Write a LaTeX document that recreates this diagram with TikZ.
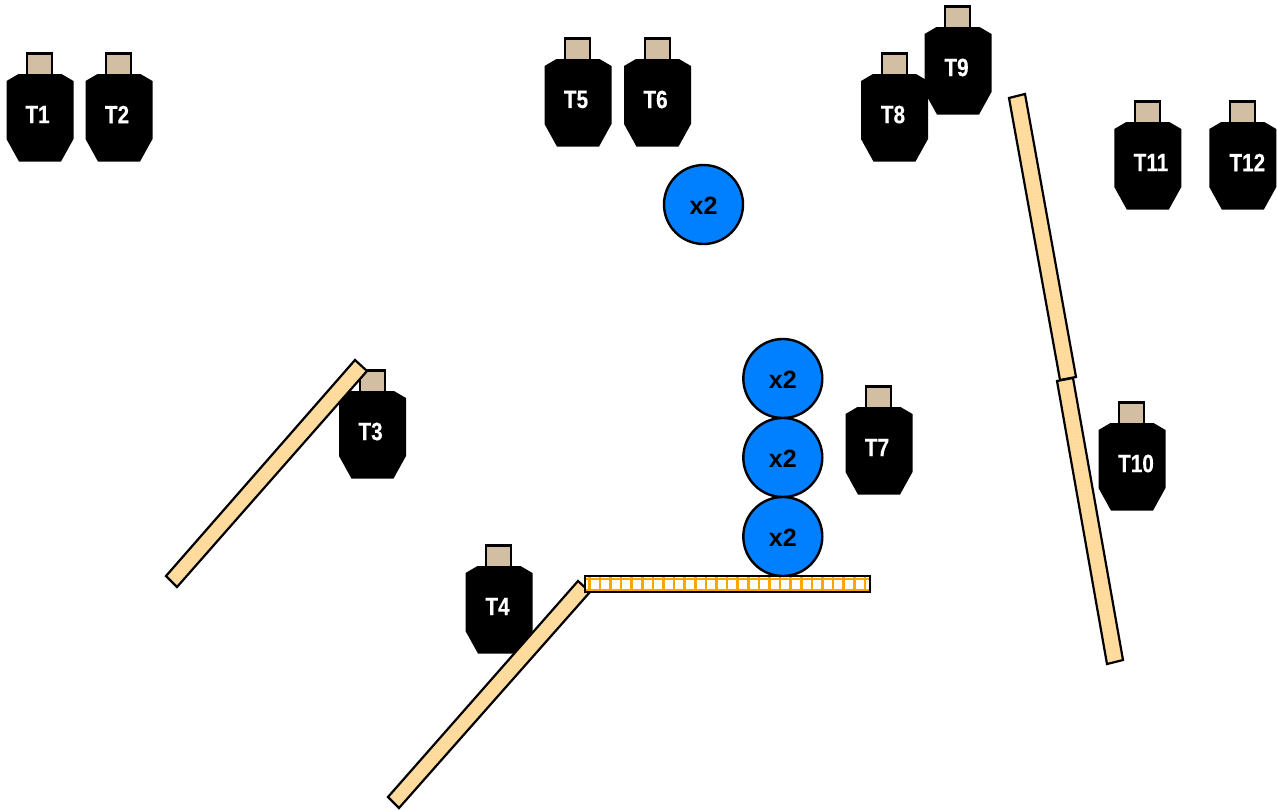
\documentclass[tikz,border=0pt]{standalone}
\usepackage{fontspec}
\setmainfont{Liberation Sans}
\newfontfamily\condfont[FakeStretch=0.83,FakeBold=0.25]{Liberation Sans Bold}
\usetikzlibrary{patterns}
\definecolor{headtan}{HTML}{D2BFA3}
\definecolor{boardfill}{HTML}{FFD998}
\definecolor{boarddot}{HTML}{FFE6BA}
\definecolor{discblue}{HTML}{0080FF}
\definecolor{gridorange}{HTML}{FFA500}
\tikzset{
  head/.style={draw=black,line width=2.4pt,fill=headtan},
  bodyshape/.style={fill=black},
  tlabel/.style={text=white,font=\condfont\fontsize{25}{26}\selectfont,inner sep=0pt},
  disc/.style={circle,draw=black,line width=2.4pt,fill=discblue,minimum size=79pt,inner sep=0pt},
  disclabel/.style={font=\bfseries\fontsize{25}{26}\selectfont,inner sep=0pt},
  board/.style={draw=black,line width=2.2pt,line join=miter,
     preaction={fill=boardfill},pattern=crosshatch dots,pattern color=boarddot}
}
\newcommand{\target}[5]{% name, left, top, label, label offset
  \begin{scope}[shift={(#2,#3)}]
    \draw[head] (20.7,-20.5) rectangle (45.7,2);
    \fill[bodyshape] (12,0) -- (55,0) -- (67,7) -- (67,65) -- (54.5,87.6) -- (12.5,87.6) -- (0,65) -- (0,7) -- cycle;
    \node[tlabel] (#1) at (#5,40.5) {#4};
  \end{scope}
}
\newcommand{\discnode}[3]{%
  \node[disc] (#1) at (#2,#3) {};
  \node[disclabel] (#1l) at (#2,#3+1.5) {x2};
}
\begin{document}
\begin{tikzpicture}[x=1pt,y=-1pt]
\useasboundingbox (0,0) rectangle (1277,809);
\target{t1}{6.5}{74}{T1}{31}
\target{t2}{85.5}{74}{T2}{31.5}
\target{t3}{339}{391}{T3}{31.5}
\target{t4}{465.5}{566}{T4}{32}
\target{t5}{544.5}{59}{T5}{31.5}
\target{t6}{624}{59}{T6}{31.5}
\target{t7}{845.5}{407}{T7}{31.5}
\target{t8}{861}{74}{T8}{32}
\target{t9}{924.5}{27}{T9}{32}
\target{t10}{1098.5}{423}{T10}{37.5}
\target{t11}{1114.3}{122}{T11}{36.7}
\target{t12}{1209.3}{122}{T12}{38}
\path[board] (355,360) -- (367,371) -- (177,587) -- (166,576) -- cycle;
\path[board] (578,581) -- (590,592) -- (399,808) -- (388,797) -- cycle;
\path[board] (1009,98) -- (1025,94) -- (1076,377) -- (1060,380) -- cycle;
\path[board] (1057,381) -- (1073,378) -- (1123,660) -- (1107,664) -- cycle;
\fill[white] (585,576) rectangle (870,592);
\begin{scope}
  \clip (585,576) rectangle (870,592);
  \foreach \i in {0,...,26} \draw[gridorange,line width=2.6pt] (589.3+10.6*\i,576) -- (589.3+10.6*\i,592);
  \draw[gridorange,line width=2pt] (585,579.3) -- (870,579.3);
  \draw[gridorange,line width=2pt] (585,590.2) -- (870,590.2);
\end{scope}
\draw[black,line width=2pt] (585,576) rectangle (870,592);
\discnode{c1}{703.5}{204.5}
\discnode{c2}{782.8}{378.5}
\discnode{c3}{782.8}{457.5}
\discnode{c4}{782.8}{536.5}
\end{tikzpicture}
\end{document}
